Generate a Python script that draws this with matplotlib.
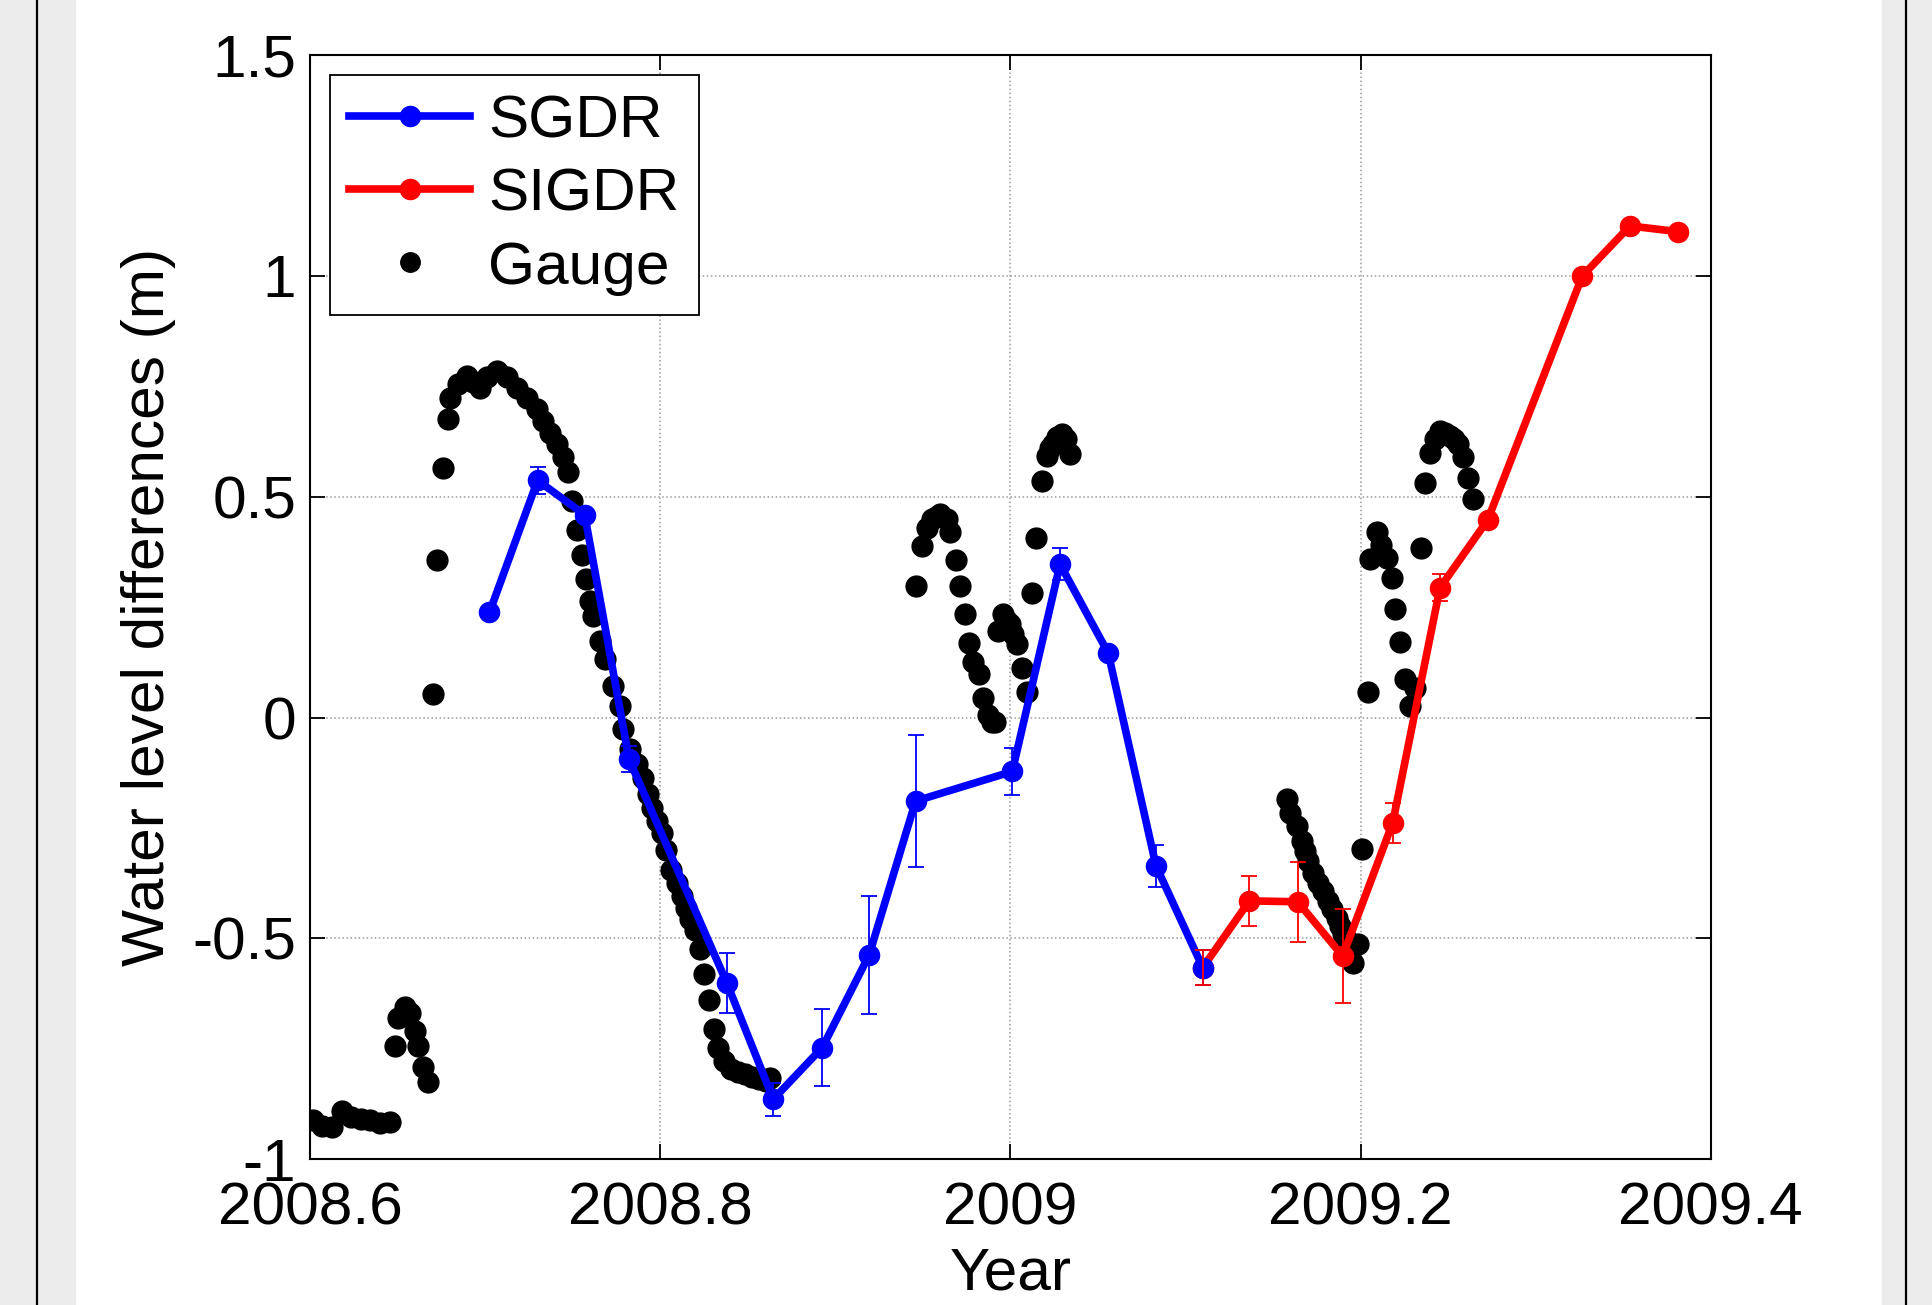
import matplotlib
matplotlib.use('Agg')
import matplotlib.pyplot as plt
from matplotlib.patches import Rectangle
from matplotlib.lines import Line2D

plt.rcParams['font.family'] = ['Liberation Sans', 'DejaVu Sans']

# altimetry (SGDR) time series
sgdr_year = [2008.7025, 2008.7300, 2008.7569, 2008.7822, 2008.8380, 2008.8646, 2008.8926,
             2008.9193, 2008.9459, 2009.0011, 2009.0284, 2009.0559, 2009.0832, 2009.1099]
sgdr_val = [0.238, 0.537, 0.459, -0.094, -0.600, -0.864, -0.747,
            -0.538, -0.189, -0.122, 0.347, 0.146, -0.336, -0.566]
sgdr_err = [0.01, 0.03, 0.01, 0.03, 0.068, 0.037, 0.087,
            0.134, 0.150, 0.053, 0.036, 0.01, 0.048, 0.04]

# altimetry (SIGDR) time series
sigdr_year = [2009.1099, 2009.1365, 2009.1641, 2009.1898, 2009.2184, 2009.2454, 2009.2726,
              2009.3267, 2009.3539, 2009.3815]
sigdr_val = [-0.566, -0.415, -0.417, -0.540, -0.238, 0.294, 0.447, 1.000, 1.113, 1.100]
sigdr_err = [0.04, 0.056, 0.09, 0.107, 0.045, 0.03, 0.01, 0.0, 0.0, 0.0]

# gauge record
gauge_year = [2008.6017, 2008.6069, 2008.6126, 2008.6183, 2008.6234, 2008.6291, 2008.6343, 2008.6400, 2008.6457,
              2008.6485, 2008.6504, 2008.6543, 2008.6571, 2008.6600, 2008.6619, 2008.6647, 2008.6676,
              2008.6704, 2008.6727, 2008.6758, 2008.6786, 2008.6800, 2008.6847, 2008.6895, 2008.6931, 2008.6971,
              2008.7009, 2008.7066, 2008.7123, 2008.7181, 2008.7238, 2008.7295, 2008.7332, 2008.7371, 2008.7409,
              2008.7447, 2008.7475,
              2008.7495, 2008.7523, 2008.7552, 2008.7574, 2008.7599, 2008.7618, 2008.7656, 2008.7685, 2008.7733,
              2008.7771, 2008.7789, 2008.7828, 2008.7868, 2008.7904, 2008.7931, 2008.7956, 2008.7982, 2008.8008,
              2008.8033, 2008.8062, 2008.8094, 2008.8125, 2008.8147, 2008.8170, 2008.8199, 2008.8227, 2008.8250,
              2008.8279, 2008.8307, 2008.8332, 2008.8365, 2008.8405, 2008.8444, 2008.8484, 2008.8524, 2008.8564,
              2008.8604, 2008.8627,
              2008.9459, 2008.9494, 2008.9522, 2008.9551, 2008.9575, 2008.9598, 2008.9636, 2008.9655, 2008.9690,
              2008.9712, 2008.9741, 2008.9766, 2008.9788, 2008.9823, 2008.9845, 2008.9872, 2008.9893, 2008.9912,
              2008.9931, 2008.9960, 2008.9979, 2008.9998, 2009.0015, 2009.0036, 2009.0065, 2009.0093, 2009.0122,
              2009.0149, 2009.0179, 2009.0208, 2009.0226, 2009.0245, 2009.0266, 2009.0293, 2009.0318, 2009.0341,
              2009.1578, 2009.1597, 2009.1635, 2009.1664, 2009.1683, 2009.1702, 2009.1730, 2009.1759, 2009.1787,
              2009.1816, 2009.1835, 2009.1864, 2009.1883, 2009.1902, 2009.1930, 2009.1959, 2009.1987,
              2009.2010, 2009.2044, 2009.2054, 2009.2092, 2009.2117, 2009.2149, 2009.2178, 2009.2197, 2009.2225,
              2009.2254, 2009.2282, 2009.2311, 2009.2344, 2009.2368, 2009.2397, 2009.2425, 2009.2454, 2009.2482,
              2009.2511, 2009.2534, 2009.2558, 2009.2587, 2009.2615, 2009.2644]
gauge_val = [-0.912, -0.925, -0.928, -0.890, -0.905, -0.908, -0.912, -0.918, -0.916,
             -0.743, -0.679, -0.656, -0.668, -0.709, -0.743, -0.792, -0.826,
             0.053, 0.356, 0.566, 0.677, 0.724, 0.755, 0.774, 0.760, 0.747,
             0.770, 0.785, 0.770, 0.747, 0.724, 0.698, 0.672, 0.645, 0.619,
             0.589, 0.555,
             0.491, 0.425, 0.368, 0.313, 0.263, 0.229, 0.174, 0.132, 0.072,
             0.026, -0.025, -0.072, -0.104, -0.136, -0.173, -0.205, -0.234, -0.262,
             -0.300, -0.345, -0.375, -0.405, -0.430, -0.455, -0.480, -0.525, -0.580,
             -0.640, -0.705, -0.747, -0.778, -0.795, -0.803, -0.808, -0.813, -0.818,
             -0.823, -0.816,
             0.298, 0.389, 0.430, 0.449, 0.455, 0.460, 0.449, 0.419, 0.356,
             0.298, 0.234, 0.168, 0.125, 0.098, 0.045, 0.005, -0.010, -0.011,
             0.196, 0.234, 0.219, 0.211, 0.190, 0.166, 0.113, 0.057, 0.283,
             0.407, 0.535, 0.592, 0.610, 0.619, 0.635, 0.642, 0.630, 0.596,
             -0.185, -0.215, -0.245, -0.279, -0.302, -0.324, -0.351, -0.374, -0.392,
             -0.415, -0.434, -0.453, -0.472, -0.490, -0.506, -0.555, -0.513,
             -0.297, 0.057, 0.359, 0.419, 0.390, 0.362, 0.317, 0.245, 0.170,
             0.087, 0.026, 0.068, 0.385, 0.532, 0.600, 0.630, 0.649, 0.645,
             0.638, 0.630, 0.619, 0.589, 0.543, 0.494]

xticks = [2008.6, 2008.8, 2009.0, 2009.2, 2009.4]
xticklabels = ['2008.6', '2008.8', '2009', '2009.2', '2009.4']
yticks = [-1, -0.5, 0, 0.5, 1, 1.5]
yticklabels = ['-1', '-0.5', '0', '0.5', '1', '1.5']

W, H = 1933, 1305
FS = 43.5
fig = plt.figure(figsize=(W / 100, H / 100), dpi=100)

# slide-like frame: gray side strips with thin black rules
fig.patches.append(Rectangle((0, 0), 75 / W, 1, transform=fig.transFigure, color='#ececec', zorder=0))
fig.patches.append(Rectangle((1882 / W, 0), 1 - 1882 / W, 1, transform=fig.transFigure, color='#ececec', zorder=0))
fig.lines.append(Line2D([37 / W, 37 / W], [0, 1], transform=fig.transFigure, color='black', lw=1.6))
fig.lines.append(Line2D([1906 / W, 1906 / W], [0, 1], transform=fig.transFigure, color='black', lw=1.6))

ax = fig.add_axes([310 / W, 145.7 / H, 1400.7 / W, 1104.3 / H])

ax.plot(gauge_year, gauge_val, 'o', color='black', markersize=15, zorder=2)
l1, = ax.plot(sgdr_year, sgdr_val, '-o', color='blue', lw=5.5, markersize=14.5, zorder=3)
l2, = ax.plot(sigdr_year, sigdr_val, '-o', color='red', lw=5.5, markersize=14.5, zorder=2.9)
ax.errorbar(sgdr_year, sgdr_val, yerr=sgdr_err, fmt='none', ecolor='blue', elinewidth=1.3, capsize=6, capthick=1.3, zorder=4)
ax.errorbar(sigdr_year, sigdr_val, yerr=sigdr_err, fmt='none', ecolor='red', elinewidth=1.3, capsize=6, capthick=1.3, zorder=4)
l3 = Line2D([], [], marker='o', color='black', linestyle='none', markersize=14)

ax.set_xlim(2008.6, 2009.4)
ax.set_ylim(-1, 1.5)
ax.set_xticks(xticks)
ax.set_xticklabels(xticklabels)
ax.set_yticks(yticks)
ax.set_yticklabels(yticklabels)
ax.grid(True, linestyle=':', color='#9a9a9a', linewidth=1.1)
ax.tick_params(direction='in', length=11, width=1.3, top=True, right=True, labelsize=FS)
ax.tick_params(axis='x', pad=16)
ax.tick_params(axis='y', pad=10)
for s in ax.spines.values():
    s.set_linewidth(1.5)

ax.set_xlabel('Year', fontsize=FS, labelpad=7)
ax.set_ylabel('Water level differences (m)', fontsize=FS, labelpad=12)

leg = ax.legend([l1, l2, l3], ['SGDR', 'SIGDR', 'Gauge'], loc='upper left', fontsize=FS,
                fancybox=False, edgecolor='black', framealpha=1, borderaxespad=0.33,
                handlelength=2.0, handletextpad=0.3, labelspacing=0.3, borderpad=0.32, numpoints=1)
leg.get_frame().set_linewidth(1.3)

fig.savefig('out.png', dpi=100)
